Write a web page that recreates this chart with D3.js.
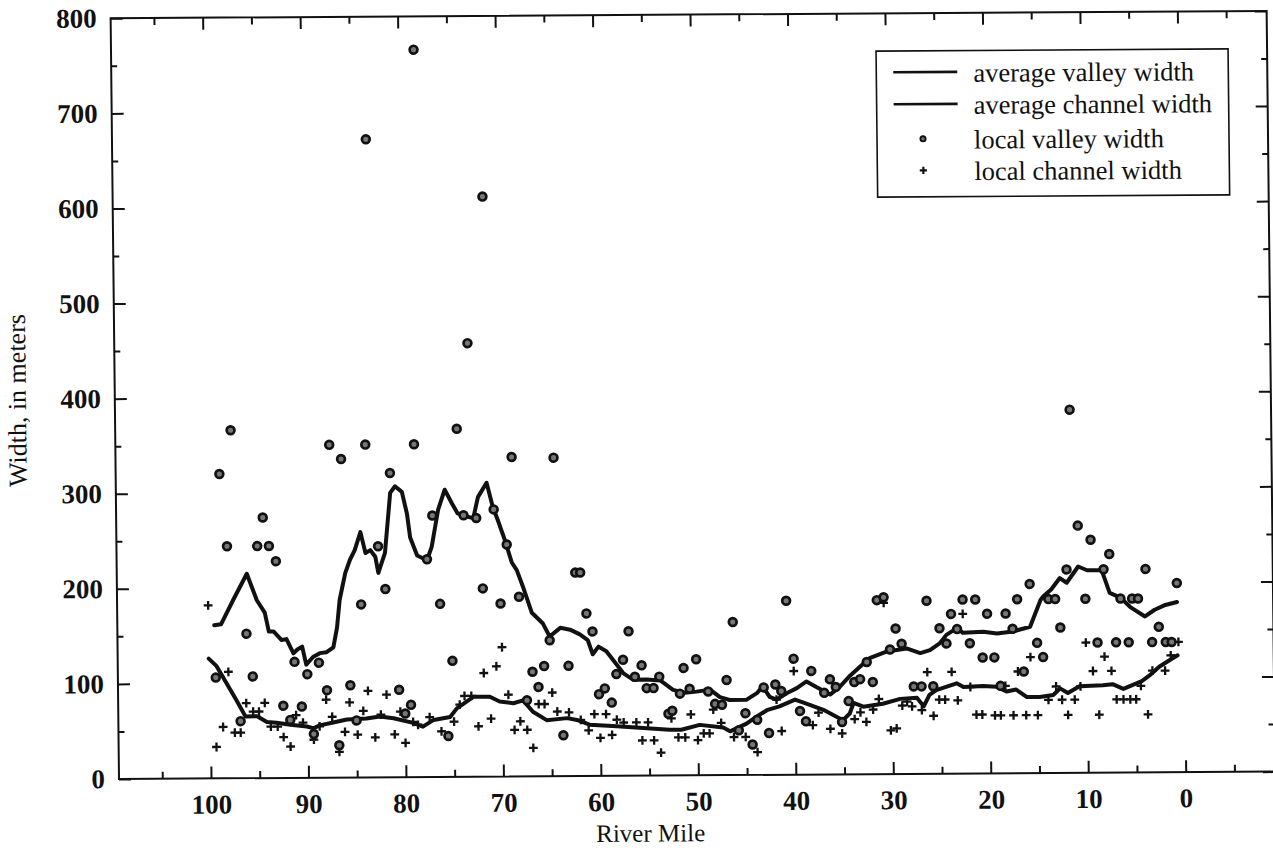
<!DOCTYPE html>
<html>
<head>
<meta charset="utf-8">
<script src="https://cdn.jsdelivr.net/npm/d3@7"></script>
<style>
  html, body { margin: 0; padding: 0; background: #fff; }
  svg { display: block; }
</style>
</head>
<body>
<svg id="chart" width="1273" height="852"></svg>
<script>
// ---- Average valley width (river mile, width in meters) ----
const valleyAvgMile = [99.5,98.8,97.5,96.1,95.1,94.3,93.9,93.4,92.6,92.1,91.4,91.0,90.5,90.1,89.4,88.7,88.0,87.3,86.9,86.6,86.0,85.5,85.0,84.4,83.9,83.4,82.9,82.6,81.9,81.3,80.8,80.1,79.6,79.3,78.6,77.6,77.1,76.4,75.7,75.0,74.4,73.6,72.8,72.3,71.4,70.8,70.3,69.6,68.9,68.4,67.8,66.9,65.8,65.1,64.0,63.0,62.0,61.2,60.7,60.1,59.3,58.4,57.6,56.6,55.2,53.8,52.5,51.3,50.1,48.7,47.7,46.7,45.0,43.9,43.3,42.6,41.9,40.8,39.8,38.8,37.8,36.9,36.4,35.4,34.3,33.3,32.3,30.5,28.5,27.1,26.1,25.1,24.4,23.3,22.7,20.6,19.2,17.6,15.8,14.7,14.4,13.6,12.7,12.0,10.8,9.9,8.4,7.6,6.5,5.5,4.0,3.0,1.9,0.7];
const valleyAvgWidth = [161,162,188,215,187,174,154,154,145,146,131,135,138,119,127,131,132,137,158,187,215,229,239,258,236,239,232,215,236,299,306,300,277,252,233,228,242,281,302,288,277,274,272,294,309,284,270,249,225,217,200,172,161,147,156,154,149,143,128,136,131,119,108,101,101,100,90,87,88,90,82,79,79,86,93,82,79,86,91,98,92,87,84,92,104,113,122,129,132,127,130,137,146,153,148,149,147,149,154,182,186,193,205,200,217,213,213,189,184,174,164,171,176,179];

// ---- Average channel width ----
const channelAvgMile = [100.1,99.3,98.3,97.3,96.4,95.2,94.2,93.2,91.8,90.1,89.4,88.8,87.4,86.0,84.0,82.6,81.2,79.2,78.2,77.1,75.4,74.7,73.7,73.0,71.3,70.3,68.9,67.9,66.9,65.5,63.4,62.4,61.1,58.3,55.6,52.9,51.7,49.8,47.4,46.7,45.0,44.0,42.9,41.6,40.0,39.2,37.1,35.1,34.4,34.0,33.0,31.0,29.2,27.5,26.8,26.2,25.5,23.4,22.7,20.7,19.3,18.3,17.3,16.2,14.9,13.5,12.8,12.0,10.8,8.4,7.4,6.3,4.4,3.6,2.6,1.5,0.7];
const channelAvgWidth = [126,118,100,82,65,65,59,58,56,54,52,55,58,61,62,64,62,57,53,60,63,72,79,84,84,79,77,80,68,59,61,59,54,52,50,48,48,53,50,46,54,61,68,72,79,76,68,57,64,75,71,74,79,80,71,83,88,95,91,92,91,86,88,80,80,82,89,84,91,92,93,88,96,102,111,118,123];

// ---- Local valley width ----
const valleyLocalMile = [97.6,98.8,94.4,98.1,95.0,93.8,93.1,87.5,86.3,83.8,81.3,78.8,74.4,73.2,68.8,64.5,82.6,77.0,73.8,72.5,70.7,69.4,77.6,81.9,71.9,84.4,76.3,70.1,68.2,65.1,75.1,66.9,65.7,66.3,67.5,75.6,62.4,61.9,61.3,60.7,57.0,63.2,60.1,59.5,58.8,57.6,58.3,56.4,55.7,53.9,55.2,54.5,51.4,50.1,51.8,50.8,48.9,47.0,46.3,53.0,52.6,63.8,48.2,47.5,45.1,45.8,44.4,42.7,43.9,43.2,42.0,41.4,40.8,40.1,39.5,38.9,38.3,37.0,36.4,35.8,35.2,34.5,33.9,33.3,32.6,32.0,31.5,30.8,30.2,29.6,29.0,23.9,20.2,18.3,25.1,23.3,17.6,12.7,24.4,22.0,15.1,8.9,7.0,5.7,3.3,1.9,1.3,2.6,20.7,19.5,14.5,16.5,27.8,27.0,25.8,18.9,26.4,22.7,21.4,17.1,10.1,13.9,13.2,6.5,5.3,4.7,15.8,12.0,8.2,3.9,0.7,7.6,9.5,10.8,11.5,96.2,91.3,88.8,90.0,95.6,99.4,88.0,85.6,80.6,92.5,90.6,79.4,80.0,96.9,91.8,85.0,89.4,86.8,78.4,83.4,71.5];
const valleyLocalWidth = [366,320,274,244,244,244,228,350,335,350,320,350,366,456,336,335,243,275,275,272,281,244,229,198,198,182,182,182,189,143,122,110,116,94,80,43,214,214,171,152,152,116,86,92,77,122,107,104,116,104,92,92,113,122,86,91,88,100,161,65,68,43,75,74,65,47,32,44,58,92,95,88,183,122,67,56,109,86,100,92,55,77,97,100,118,97,183,186,131,153,137,168,168,168,153,152,152,153,137,137,137,137,137,137,137,137,137,153,122,122,122,107,92,92,92,92,182,183,183,183,183,183,183,183,183,183,199,214,214,214,199,230,245,260,382,152,122,121,109,107,106,92,97,92,76,75,76,67,60,61,60,46,34,765,671,610];

// ---- Local channel width ----
const channelLocalMile = [100.1,98.1,98.7,99.4,97.5,96.9,96.3,95.6,95.0,94.4,93.8,93.1,92.5,91.8,91.2,90.5,89.4,88.8,88.1,87.5,86.8,86.2,85.7,84.9,84.3,83.8,83.1,82.5,81.9,81.1,80.5,80.0,79.2,78.7,77.5,76.3,75.0,74.4,73.9,73.2,72.5,71.9,71.2,70.6,70.0,69.4,68.8,68.2,67.5,66.9,66.3,65.7,64.9,64.4,63.2,62.0,61.2,60.6,60.0,59.4,58.8,58.3,57.6,56.3,55.1,55.7,54.5,53.8,52.7,52.0,51.3,50.7,50.0,49.4,48.8,48.4,47.6,46.3,45.1,43.9,40.1,41.9,41.4,38.2,37.6,36.4,35.2,33.9,33.3,32.7,32.0,31.4,30.8,30.2,29.6,29.0,28.5,28.0,27.0,26.4,25.8,25.2,24.6,23.9,23.3,22.7,22.0,21.4,20.8,19.5,18.9,18.4,17.6,17.1,16.3,15.8,15.1,14.0,13.2,12.6,12.0,11.3,10.7,10.1,9.4,8.8,8.2,7.5,7.0,6.3,5.6,5.0,4.5,3.8,3.3,2.0,1.4,0.6];
const channelLocalWidth = [182,112,54,33,48,48,79,70,70,79,54,54,43,33,66,58,40,54,82,64,27,48,79,45,70,91,42,66,87,45,69,36,58,55,63,48,58,76,85,85,53,109,61,116,136,86,49,58,49,30,76,76,88,68,67,59,48,65,40,65,43,59,56,56,56,37,37,24,60,40,40,64,37,44,44,69,55,40,40,24,109,79,46,52,65,48,43,58,65,55,68,79,180,46,48,72,76,71,67,107,61,78,78,107,77,168,91,62,62,61,61,92,61,107,61,122,61,77,91,77,61,77,91,137,107,61,122,107,77,77,77,77,91,61,107,107,123,137];

// ---- Axis ticks ----
const xMajorTicks = [100, 90, 80, 70, 60, 50, 40, 30, 20, 10, 0];
const xMinorTicks = [105, 95, 85, 75, 65, 55, 45, 35, 25, 15, 5, -5];
const yMajorTicks = [0, 100, 200, 300, 400, 500, 600, 700, 800];
const yMinorTicks = [50, 150, 250, 350, 450, 550, 650, 750];

const legendItems = [
  { label: "average valley width", kind: "line" },
  { label: "average channel width", kind: "line" },
  { label: "local valley width", kind: "circle" },
  { label: "local channel width", kind: "plus" }
];

// ---- Layout ----
const W = 1273, H = 852;
const frame = { left: 119, right: 1275, top: 18.3, bottom: 779 };
const FONT = "'Liberation Serif', 'Times New Roman', Times, serif";
const INK = "#111";

const svg = d3.select("#chart");
svg.append("rect").attr("width", W).attr("height", H).attr("fill", "#fff");

// The sheet is printed slightly askew; the whole figure shares one skew.
const g = svg.append("g")
  .attr("transform", "matrix(1,-0.0064,0.011,1,-8.569,0.762)");

const x = d3.scaleLinear().domain([109.44, -9.16]).range([frame.left, frame.right]);
const y = d3.scaleLinear().domain([0, 800]).range([frame.bottom, frame.top]);

function styleAxis(sel) {
  sel.select(".domain").remove();
  sel.selectAll(".tick line").attr("stroke", INK).attr("stroke-width", 2);
  sel.selectAll("text")
    .attr("fill", INK)
    .attr("font-family", FONT)
    .attr("font-size", 27)
    .attr("font-weight", "bold");
}

// bottom axis (inward ticks)
g.append("g").attr("transform", `translate(0,${frame.bottom})`)
  .call(d3.axisBottom(x).tickValues(xMinorTicks).tickSize(-7).tickFormat(""))
  .call(styleAxis);
g.append("g").attr("transform", `translate(0,${frame.bottom})`)
  .call(d3.axisBottom(x).tickValues(xMajorTicks).tickSize(-12).tickPadding(16).tickFormat(d3.format("d")))
  .call(styleAxis);
// top axis mirrors
g.append("g").attr("transform", `translate(0,${frame.top})`)
  .call(d3.axisTop(x).tickValues(xMinorTicks).tickSize(-7).tickFormat(""))
  .call(styleAxis);
g.append("g").attr("transform", `translate(0,${frame.top})`)
  .call(d3.axisTop(x).tickValues(xMajorTicks).tickSize(-12).tickFormat(""))
  .call(styleAxis);
// left axis
g.append("g").attr("transform", `translate(${frame.left},0)`)
  .call(d3.axisLeft(y).tickValues(yMinorTicks).tickSize(-6).tickFormat(""))
  .call(styleAxis);
g.append("g").attr("transform", `translate(${frame.left},0)`)
  .call(d3.axisLeft(y).tickValues(yMajorTicks).tickSize(-12).tickPadding(14).tickFormat(d3.format("d")))
  .call(styleAxis);
// right axis mirrors
g.append("g").attr("transform", `translate(${frame.right},0)`)
  .call(d3.axisRight(y).tickValues(yMinorTicks).tickSize(-6).tickFormat(""))
  .call(styleAxis);
g.append("g").attr("transform", `translate(${frame.right},0)`)
  .call(d3.axisRight(y).tickValues(yMajorTicks).tickSize(-12).tickFormat(""))
  .call(styleAxis);

// frame
g.append("rect")
  .attr("x", frame.left).attr("y", frame.top)
  .attr("width", frame.right - frame.left).attr("height", frame.bottom - frame.top)
  .attr("fill", "none").attr("stroke", INK).attr("stroke-width", 2);

// axis titles
g.append("text")
  .attr("x", 650).attr("y", 845)
  .attr("text-anchor", "middle")
  .attr("font-family", FONT).attr("font-size", 25).attr("fill", INK)
  .text("River Mile");
g.append("text")
  .attr("transform", "translate(30,400) rotate(-90)")
  .attr("text-anchor", "middle")
  .attr("font-family", FONT).attr("font-size", 26).attr("fill", INK)
  .text("Width, in meters");

// average lines
const line = d3.line().x(d => x(d[0])).y(d => y(d[1]));
const valleyAvg = valleyAvgMile.map((m, i) => [m, valleyAvgWidth[i]]);
const channelAvg = channelAvgMile.map((m, i) => [m, channelAvgWidth[i]]);
[valleyAvg, channelAvg].forEach(series => {
  g.append("path")
    .datum(series)
    .attr("d", line)
    .attr("fill", "none")
    .attr("stroke", INK)
    .attr("stroke-width", 4)
    .attr("stroke-linejoin", "round")
    .attr("stroke-linecap", "round");
});

// local channel width: plus signs
const plusPath = s => `M${-s},0H${s}M0,${-s}V${s}`;
g.append("g").selectAll("path")
  .data(channelLocalMile.map((m, i) => [m, channelLocalWidth[i]]))
  .join("path")
  .attr("transform", d => `translate(${x(d[0])},${y(d[1])})`)
  .attr("d", plusPath(4.4))
  .attr("stroke", INK).attr("stroke-width", 2.3).attr("fill", "none");

// local valley width: shaded circles
g.append("g").selectAll("circle")
  .data(valleyLocalMile.map((m, i) => [m, valleyLocalWidth[i]]))
  .join("circle")
  .attr("cx", d => x(d[0])).attr("cy", d => y(d[1]))
  .attr("r", 3.9)
  .attr("fill", "#777")
  .attr("stroke", INK).attr("stroke-width", 2.7);

// legend
const lg = g.append("g");
lg.append("rect")
  .attr("x", 884).attr("y", 56).attr("width", 352).attr("height", 146)
  .attr("fill", "#fff").attr("stroke", INK).attr("stroke-width", 1.6);
const rowBase = [87.3, 119.3, 154, 185.6];
legendItems.forEach((item, i) => {
  const cy = rowBase[i] - 10;
  if (item.kind === "line") {
    lg.append("line").attr("x1", 901).attr("x2", 965).attr("y1", cy).attr("y2", cy)
      .attr("stroke", INK).attr("stroke-width", 2.6);
  } else if (item.kind === "circle") {
    lg.append("circle").attr("cx", 930).attr("cy", cy).attr("r", 2.6)
      .attr("fill", "#777").attr("stroke", INK).attr("stroke-width", 1.9);
  } else {
    lg.append("path").attr("transform", `translate(930,${cy})`).attr("d", plusPath(3.6))
      .attr("stroke", INK).attr("stroke-width", 2.2);
  }
  lg.append("text")
    .attr("x", 981).attr("y", rowBase[i])
    .attr("font-family", FONT).attr("font-size", 26.5).attr("fill", INK)
    .text(item.label);
});
</script>
</body>
</html>
